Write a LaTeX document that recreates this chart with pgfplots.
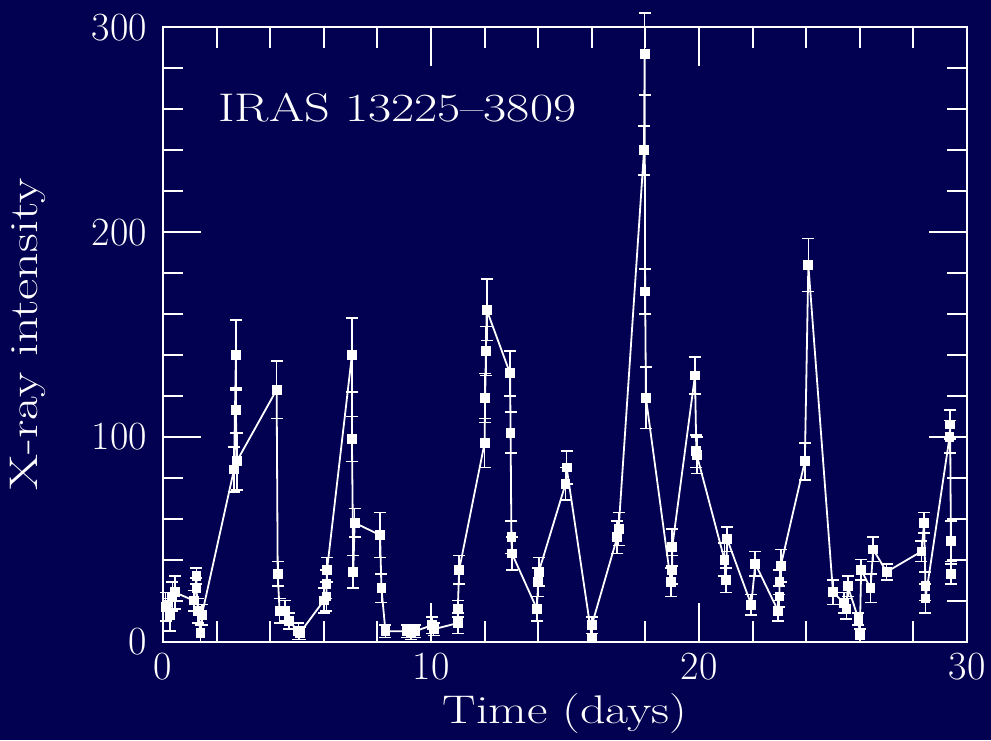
\documentclass[border=0pt]{standalone}
\usepackage{pgfplots}
\pgfplotsset{compat=1.18}
\usepackage{pgfplotstable}
\definecolor{bg}{RGB}{2,0,80}
\pgfplotstableread{
x y e
0.10 17 7
0.25 13 8
0.35 22 7
0.45 24 8
1.15 20 5
1.25 32 4
1.25 26 5
1.30 15 6
1.40 4 4
1.45 13 5
2.65 84 11
2.72 140 17
2.72 113 11
2.75 88 14
4.24 123 14
4.28 33 6
4.35 15 6
4.55 15 5
4.70 10 4
5.05 5 4
5.10 4 3
6.00 20 6
6.10 22 7
6.10 28 7
6.12 35 6
7.05 140 18
7.05 99 11
7.10 34 8
7.15 58 7
8.10 52 11
8.15 26 7
8.30 5 3
9.10 5 3
9.25 4 3
9.40 5 3
10.05 8 4
10.10 6 3
11.00 9 5
11.00 16 4
11.05 35 7
12.00 97 12
12.02 119 12
12.05 142 12
12.08 162 15
12.95 131 11
12.97 102 10
13.00 51 8
13.02 43 8
13.95 16 6
14.00 29 7
14.02 34 7
15.02 77 8
15.06 85 8
16.00 2 2
16.00 8 4
16.95 51 8
17.00 55 8
17.95 240 12
17.97 287 20
17.99 171 11
18.02 119 15
18.95 29 7
19.00 35 7
19.00 46 9
19.85 130 9
19.90 93 8
19.92 91 9
20.95 40 8
21.00 30 6
21.05 50 6
21.95 18 5
22.10 38 6
22.95 15 5
23.00 22 5
23.00 29 6
23.05 37 8
23.95 88 9
24.08 184 13
25.00 24 6
25.40 19 5
25.50 16 5
25.55 27 5
25.95 11 3
26.00 3 3
26.05 35 5
26.40 26 7
26.50 45 6
27.00 34 4
28.30 44 5
28.40 58 5
28.45 27 7
28.45 21 7
29.35 100 8
29.37 106 7
29.40 49 10
29.40 33 5
}\lc
\begin{document}
\begin{tikzpicture}
\fill[bg] (0,0) rectangle (495.5pt,370pt);
\path[use as bounding box] (0,0) rectangle (495.5pt,370pt);
\begin{axis}[
  at={(81.5pt,49.25pt)}, anchor=south west,
  scale only axis, width=402pt, height=307pt,
  xmin=0, xmax=30, ymin=0, ymax=300,
  xtick={0,10,20,30}, minor xtick={2,4,6,8,12,14,16,18,22,24,26,28},
  ytick={0,100,200,300}, minor ytick={20,40,60,80,120,140,160,180,220,240,260,280},
  tick align=inside, major tick length=19pt, minor tick length=10pt,
  axis line style={white, line width=1pt},
  every tick/.style={white, line width=1pt},
  every minor tick/.style={white, line width=1pt},
  tick label style={white, font=\fontsize{20}{24}\selectfont},
  /pgf/number format/assume math mode=true,
  xticklabel style={yshift=-2pt},
  yticklabel style={xshift=-4.5pt},
  label style={white, font=\fontsize{20}{24}\selectfont},
  xlabel={\scalebox{1.25}[1]{Time (days)}},
  ylabel={\scalebox{1.3}[1]{X-ray intensity}},
  xlabel style={at={(axis description cs:0.5,-0.118)}, anchor=center},
  ylabel style={at={(axis description cs:-0.168,0.5)}, anchor=center},
  clip=false,
]
\addplot[white, line width=0.9pt, mark=square*, mark size=2pt,
  mark options={solid, fill=white},
  error bars/.cd, y dir=both, y explicit,
  error bar style={white, line width=0.8pt},
  error mark options={rotate=90, white, mark size=3pt, line width=0.8pt}]
  table[x=x, y=y, y error=e] {\lc};
\node[white, anchor=west, inner sep=0pt, font=\fontsize{20}{24}\selectfont]
  at (axis description cs:0.0684,0.869) {\scalebox{1.26}[1]{IRAS 13225--3809}};
\end{axis}
\end{tikzpicture}
\end{document}
